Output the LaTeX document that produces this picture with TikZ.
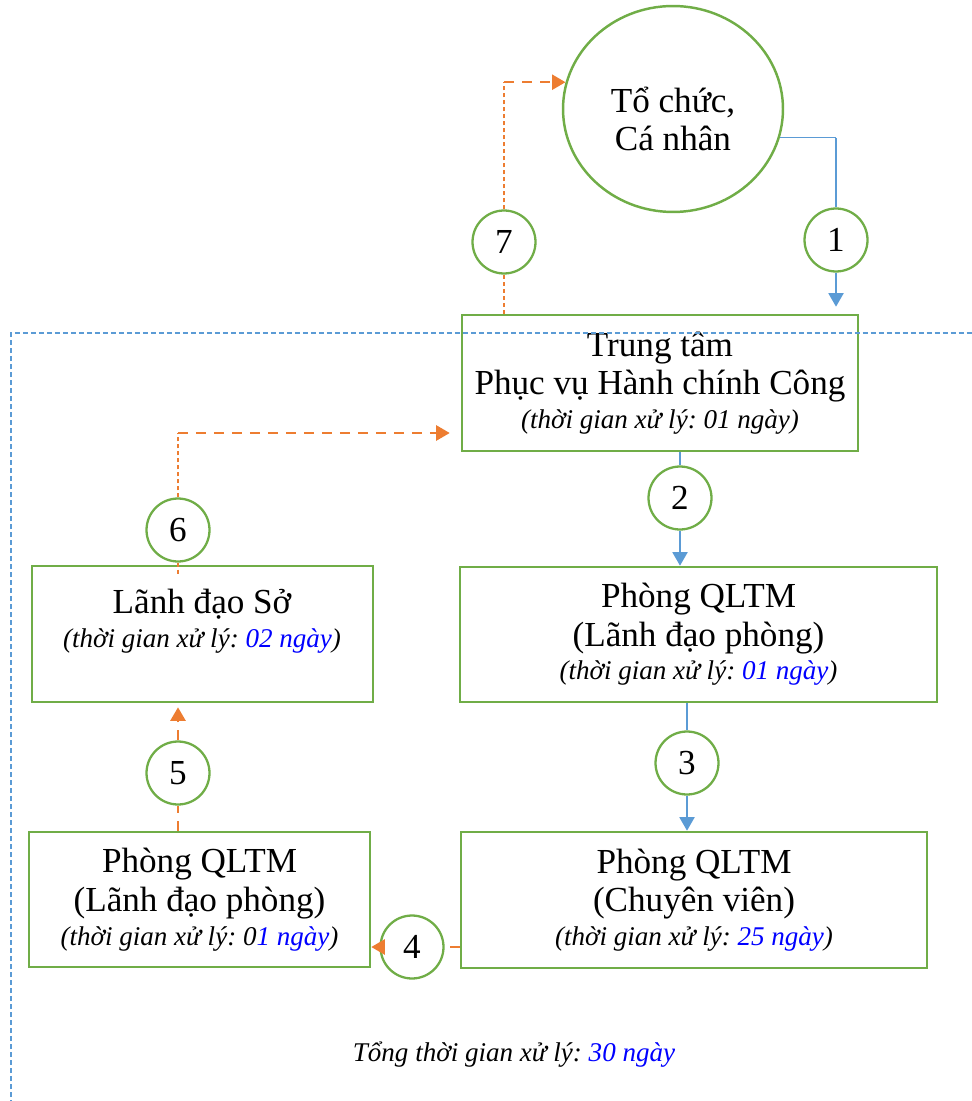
\documentclass[tikz,border=0pt]{standalone}
\usepackage{fontspec}
\setmainfont{Liberation Serif}
\usetikzlibrary{shapes.geometric,arrows.meta}
\definecolor{boxgreen}{RGB}{112,173,71}
\definecolor{flowblue}{RGB}{91,155,213}
\definecolor{floworange}{RGB}{237,125,49}
\definecolor{dayblue}{RGB}{0,0,255}
\newcommand{\bigtext}{\fontsize{20}{22.1}\selectfont}
\newcommand{\timetext}{\fontsize{15.4}{18}\selectfont\itshape}
\frenchspacing

\begin{document}
\begin{tikzpicture}[x=0.02cm,y=-0.02cm,
      stepbox/.style={draw=boxgreen,line width=1.5pt,rectangle,align=center,font=\bigtext,inner sep=0pt},
      numcircle/.style={draw=boxgreen,line width=1.3pt,circle,fill=white,minimum size=1.26cm,inner sep=0pt,font=\bigtext},
      blueflow/.style={draw=flowblue,line width=1.1pt},
      bluethin/.style={draw=flowblue,line width=0.6pt},
      orangeflow/.style={draw=floworange,line width=1.4pt,dash pattern=on 0.2cm off 0.16cm},
      orangethin/.style={draw=floworange,line width=0.6pt,dash pattern=on 0.08cm off 0.06cm},
      flowtip/.style={-{Triangle[width=0.3cm,length=0.27cm]}}]
      \useasboundingbox (0,0) rectangle (971,1101);

      \node[ellipse,draw=boxgreen,line width=1.4pt,minimum width=4.4cm,minimum height=4.12cm,
            inner sep=0pt] (tochuc) at (673,109) {};
      \node[align=center,font=\bigtext] (tochuctext) at (673,119) {Tổ chức,\\Cá nhân};

      \node[stepbox,minimum width=7.92cm,minimum height=2.72cm] (tt) at (660,383)
            {Trung tâm\\Phục vụ Hành chính Công\\[-3pt]{\timetext (thời gian xử lý: 01 ngày)}};
      \node[stepbox,minimum width=9.54cm,minimum height=2.70cm] (ldp) at (698.5,634.5)
            {Phòng QLTM\\(Lãnh đạo phòng)\\[-3pt]{\timetext (thời gian xử lý: \textcolor{dayblue}{01 ngày})}};
      \node[stepbox,minimum width=9.32cm,minimum height=2.72cm] (cv) at (694,900)
            {Phòng QLTM\\(Chuyên viên)\\[-3pt]{\timetext (thời gian xử lý: \textcolor{dayblue}{25 ngày})}};
      \node[stepbox,minimum width=6.82cm,minimum height=2.70cm] (qlbot) at (199.5,899.5)
            {Phòng QLTM\\(Lãnh đạo phòng)\\[-3pt]{\timetext (thời gian xử lý: 0\textcolor{dayblue}{1 ngày})}};
      \node[stepbox,minimum width=6.82cm,minimum height=2.72cm] (lds) at (202.5,634) {};
      \node[align=center,font=\bigtext] (ldstext) at (202,621)
            {Lãnh đạo Sở\\[-3pt]{\timetext (thời gian xử lý: \textcolor{dayblue}{02 ngày})}};

      \draw[flowblue,line width=0.6pt,dash pattern=on 0.1cm off 0.06cm]
            (11,1105) -- (11,333) -- (975,333);

      \node[numcircle] (n1) at (836,240) {1};
      \node[numcircle] (n2) at (680,498) {2};
      \node[numcircle] (n3) at (687,763) {3};
      \node[numcircle] (n4) at (412,947) {4};
      \node[numcircle] (n5) at (178,773) {5};
      \node[numcircle] (n6) at (178,530) {6};
      \node[numcircle] (n7) at (504,242) {7};

      \coordinate (c1) at (n1 |- tochuc.-15);
      \coordinate (c6) at (178,433);
      \coordinate (c7) at (n7 |- tochuc.166);

      \draw[bluethin] (tochuc.-15) -- (c1);
      \draw[blueflow] (c1) -- (n1.north);
      \draw[blueflow,flowtip,shorten >=0.14cm] (n1.south) -- (n1 |- tt.north);
      \draw[blueflow] (n2 |- tt.south) -- (n2.north);
      \draw[blueflow,flowtip] (n2.south) -- (n2 |- ldp.north);
      \draw[blueflow] (n3 |- ldp.south) -- (n3.north);
      \draw[blueflow,flowtip] (n3.south) -- (n3 |- cv.north);
      \draw[orangeflow] (cv.west |- n4) -- (n4.east);
      \draw[orangeflow,flowtip] (n4.west) -- (n4 -| qlbot.east);
      \draw[orangeflow] (n5 |- qlbot.north) -- (n5.south);
      \draw[orangeflow,flowtip,shorten >=0.08cm] (n5.north) -- (n5 |- lds.south);
      \draw[orangethin] (n6.south) -- ([yshift=-0.2cm]n6 |- lds.north);
      \draw[orangethin] (n6.north) -- (c6);
      \draw[orangeflow,flowtip,shorten >=0.22cm] (c6) -- (c6 -| tt.west);
      \draw[orangethin] (n7 |- tt.north) -- (n7.south);
      \draw[orangethin] (n7.north) -- (c7);
      \draw[orangeflow,flowtip] (c7) -- (tochuc.166);

      \node[font=\timetext] (total) at (514,1055)
            {Tổng thời gian xử lý: \textcolor{dayblue}{30 ngày}};
\end{tikzpicture}
\end{document}
